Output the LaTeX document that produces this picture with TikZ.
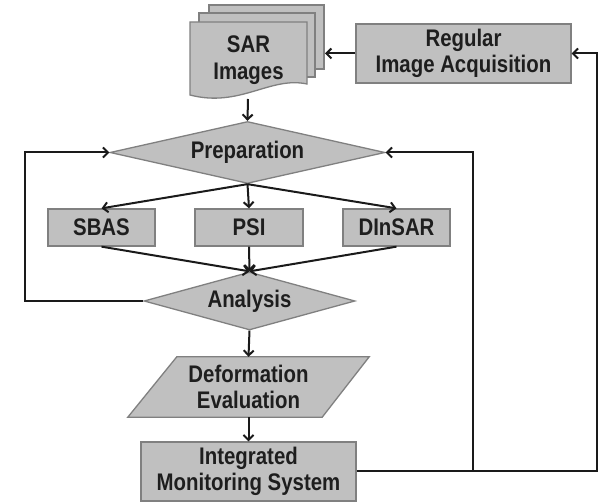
\documentclass[tikz,border=0pt]{standalone}
\usepackage{fontspec}
\setmainfont{Liberation Sans}[FakeStretch=0.85]
\usetikzlibrary{arrows.meta,shapes.geometric}
\definecolor{boxfill}{HTML}{C0C0C0}
\definecolor{boxline}{HTML}{808080}
\definecolor{txt}{HTML}{1E1E1E}
\definecolor{wire}{HTML}{1A1A1A}
\tikzset{
  lbl/.style={font=\fontsize{24}{26.5}\selectfont\bfseries, text=txt, align=center, inner sep=0pt},
  procbox/.style={lbl, draw=boxline, fill=boxfill, line width=1.3pt},
  dia/.style={lbl, shape=diamond, draw=boxline, fill=boxfill, line width=1.3pt},
  conn/.style={draw=wire, line width=2pt, -{Straight Barb[length=5pt,width=10pt,line width=2pt]}},
  shapefill/.style={draw=boxline, fill=boxfill, line width=1.3pt, line join=miter}
}
\begin{document}
\begin{tikzpicture}[x=1pt,y=-1pt]
\path[use as bounding box, fill=white] (0,0) rectangle (606,502);

% SAR image stack
\path[shapefill] (209,5) rectangle (324,69);
\path[shapefill] (199,13) rectangle (315,77);
\path[shapefill] (190,22) -- (307,22) -- (307,84) .. controls (270,76) and (240,108) .. (190,95) -- cycle;
\node[lbl, minimum width=117pt, minimum height=78pt] (sar) at (248.5,60) {SAR\\Images};
\coordinate (sarbot) at (248,99);
\coordinate (sarright) at (325,53.5);

% Regular image acquisition
\node[procbox, minimum width=215pt, minimum height=59pt] (reg) at (463.5,53.5) {Regular\\Image Acquisition};

% Preparation
\node[dia, aspect=4.435, minimum width=275pt, minimum height=62pt] (prep) at (247.5,152.5) {Preparation};

% Methods
\node[procbox, minimum width=107pt, minimum height=37pt] (sbas) at (101.5,227.5) {SBAS};
\node[procbox, minimum width=108pt, minimum height=37pt] (psi) at (249,227.5) {PSI};
\node[procbox, minimum width=107pt, minimum height=37pt] (dinsar) at (396.5,227.5) {DInSAR};

% Analysis
\node[dia, aspect=3.64, minimum width=211pt, minimum height=58pt] (ana) at (249.5,301) {Analysis};

% Deformation evaluation (parallelogram)
\node[lbl, minimum width=241pt, minimum height=60pt] (def) at (248.5,387) {};
\path[shapefill] (def.south west) -- ([xshift=-47pt]def.south east) -- (def.north east) -- ([xshift=49pt]def.north west) -- cycle;
\node[lbl] at (def) {Deformation\\Evaluation};

% Integrated monitoring system
\node[procbox, minimum width=215pt, minimum height=59pt] (ims) at (248.5,471.5) {Integrated\\Monitoring System};

% Connectors
\draw[conn] (reg.west) -- (sarright);
\draw[conn] (sarbot) -- (prep.north);
\draw[conn] (prep.south) -- (sbas.north);
\draw[conn] (prep.south) -- (psi.north);
\draw[conn] (prep.south) -- (dinsar.north);
\draw[conn] (sbas.south) -- (ana.north);
\draw[conn] (psi.south) -- (ana.north);
\draw[conn] (dinsar.south) -- (ana.north);
\draw[conn] (ana.west) -- (25,301) -- (25,152.5) -- (prep.west);
\draw[conn] (ana.south) -- (def.north);
\draw[conn] (def.south) -- (ims.north);
\coordinate (junc) at (473,471.5);
\draw[conn, line join=miter] (ims.east) -- (597,471.5) -- (597,53.5) -- (reg.east);
\draw[conn, line join=miter] (junc) -- (473,152.5) -- (prep.east);
\end{tikzpicture}
\end{document}
